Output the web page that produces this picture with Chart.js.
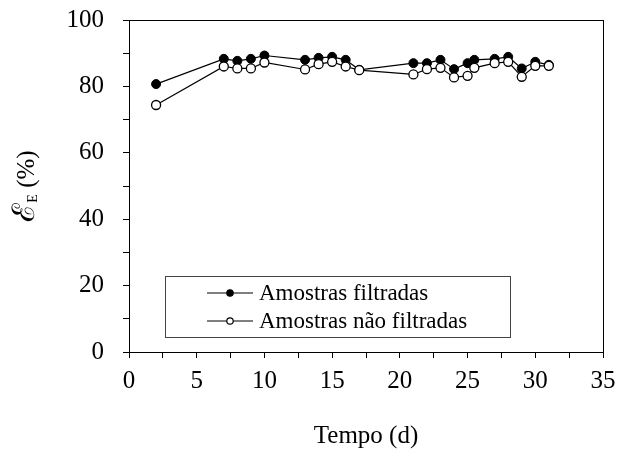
<!DOCTYPE html>
<html>
<head>
<meta charset="utf-8">
<script src="https://cdn.jsdelivr.net/npm/chart.js@4.4.1/dist/chart.umd.min.js"></script>
<style>
  html, body { margin: 0; padding: 0; background: #fff; }
  canvas { display: block; }
</style>
</head>
<body>
<canvas id="grafico" width="619" height="463"></canvas>
<script>
const dias = [2, 7, 8, 9, 10, 13, 14, 15, 16, 17, 21, 22, 23, 24, 25, 25.5, 27, 28, 29, 30, 31];
const filtradas = [80.7, 88.3, 87.7, 88.3, 89.3, 88, 88.6, 88.9, 88, 85, 87, 87, 88, 85.2, 87, 88, 88.3, 88.9, 85.4, 87.4, 86.5];
const naoFiltradas = [74.4, 86, 85.4, 85.4, 87.2, 85.1, 86.7, 87.4, 86, 84.9, 83.6, 85.2, 85.6, 82.7, 83.2, 85.6, 87, 87.4, 82.9, 86.2, 86.2];
const rotulos = ['Amostras filtradas', 'Amostras não filtradas'];

const fonte = "'Liberation Serif', 'Times New Roman', serif";

function pontos(ys) {
  return dias.map((d, i) => ({ x: d, y: ys[i] }));
}

// moldura, legenda e titulo do eixo y
const extras = {
  id: 'extras',
  afterDraw(chart) {
    const ctx = chart.ctx;
    const a = chart.chartArea;
    ctx.save();
    ctx.strokeStyle = '#000';
    ctx.lineWidth = 1;
    ctx.strokeRect(a.left + 0.5, a.top + 0.5, a.right - a.left, a.bottom - a.top);

    // legenda
    const lx = a.left + 36, ly = 276;
    ctx.strokeStyle = '#444';
    ctx.strokeRect(lx + 0.5, ly + 0.5, 345, 61);
    chart.data.datasets.forEach((ds, i) => {
      const y = 293 + i * 28;
      ctx.strokeStyle = '#000';
      ctx.lineWidth = 1.2;
      ctx.beginPath();
      ctx.moveTo(lx + 42, y);
      ctx.lineTo(lx + 88, y);
      ctx.stroke();
      ctx.beginPath();
      ctx.arc(lx + 65, y, 3.2, 0, Math.PI * 2);
      ctx.fillStyle = ds.pointBackgroundColor;
      ctx.fill();
      ctx.stroke();
      ctx.fillStyle = '#000';
      ctx.font = '23px ' + fonte;
      ctx.textBaseline = 'middle';
      ctx.textAlign = 'left';
      ctx.fillText(ds.label, lx + 94, y + 1);
    });

    // titulo y: ℰE (%)
    ctx.translate(25, 186);
    ctx.rotate(-Math.PI / 2);
    ctx.fillStyle = '#000';
    ctx.textBaseline = 'alphabetic';
    ctx.textAlign = 'left';
    const fEps = "31px 'DejaVu Serif', serif";
    ctx.font = fEps;
    const w1 = ctx.measureText('ℰ').width;
    ctx.font = '14px ' + fonte;
    const w2 = ctx.measureText('E').width;
    ctx.font = '25px ' + fonte;
    const w3 = ctx.measureText(' (%)').width;
    let x = -(w1 + w2 + w3) / 2;
    ctx.font = fEps;
    ctx.fillText('ℰ', x, 9);
    x += w1;
    ctx.font = '14px ' + fonte;
    ctx.fillText('E', x, 12);
    x += w2;
    ctx.font = '25px ' + fonte;
    ctx.fillText(' (%)', x, 9);
    ctx.restore();
  }
};

new Chart(document.getElementById('grafico'), {
  type: 'line',
  data: {
    datasets: [{
      label: rotulos[0],
      data: pontos(filtradas),
      borderColor: '#000',
      borderWidth: 1.2,
      pointBackgroundColor: '#000',
      pointBorderColor: '#000',
      pointRadius: 4.5,
      pointBorderWidth: 1,
      tension: 0,
      order: 2
    }, {
      label: rotulos[1],
      data: pontos(naoFiltradas),
      borderColor: '#000',
      borderWidth: 1.2,
      pointBackgroundColor: '#fff',
      pointBorderColor: '#000',
      pointRadius: 4.5,
      pointBorderWidth: 1.3,
      tension: 0,
      order: 1
    }]
  },
  options: {
    responsive: false,
    animation: false,
    layout: { padding: { top: 20, right: 16, left: 0, bottom: 0 } },
    plugins: {
      legend: { display: false },
      tooltip: { enabled: false }
    },
    scales: {
      x: {
        type: 'linear',
        min: 0,
        max: 35,
        afterFit(scale) {
          scale.height = 111;
          scale.paddingLeft = 0;
          scale.paddingRight = 0;
        },
        grid: { drawOnChartArea: false, color: '#000', tickLength: 6 },
        border: { color: '#000' },
        ticks: {
          stepSize: 2.5,
          autoSkip: false,
          maxRotation: 0,
          padding: 8,
          color: '#000',
          font: { family: fonte, size: 25 },
          callback: v => (v % 5 === 0 ? v : '')
        },
        title: {
          display: true,
          text: 'Tempo (d)',
          color: '#000',
          font: { family: fonte, size: 25 },
          padding: { top: 0, bottom: 12 }
        }
      },
      y: {
        min: 0,
        max: 100,
        afterFit(scale) {
          scale.width = 129;
          scale.paddingTop = 0;
          scale.paddingBottom = 0;
        },
        grid: { drawOnChartArea: false, color: '#000', tickLength: 6 },
        border: { color: '#000' },
        ticks: {
          stepSize: 10,
          autoSkip: false,
          padding: 19,
          color: '#000',
          font: { family: fonte, size: 25 },
          callback: v => (v % 20 === 0 ? v : '')
        }
      }
    }
  },
  plugins: [extras]
});
</script>
</body>
</html>
